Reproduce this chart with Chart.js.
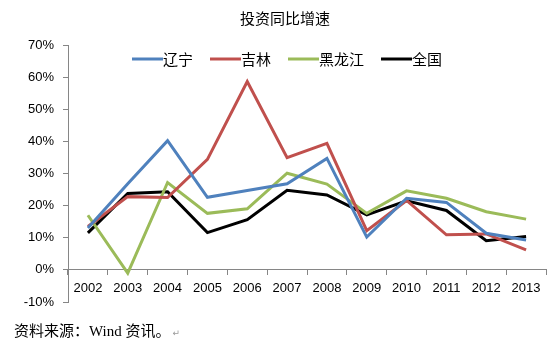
<!DOCTYPE html>
<html><head><meta charset="utf-8">
<script src="https://cdn.jsdelivr.net/npm/chart.js@4/dist/chart.umd.min.js"></script>
<style>html,body{margin:0;padding:0;background:#fff}#wrap{width:550px;height:342px}</style>
</head><body><div id="wrap"><canvas id="c" width="550" height="342"></canvas></div>
<script>
const title = "投资同比增速";
const footer = "资料来源：Wind 资讯。";
const years = ["2002","2003","2004","2005","2006","2007","2008","2009","2010","2011","2012","2013"];
const liaoning = [13.0, 26.8, 40.2, 22.6, 24.7, 26.8, 34.7, 10.2, 22.3, 21.0, 11.4, 9.3];
const jilin    = [13.5, 22.8, 22.5, 34.4, 58.6, 34.9, 39.4, 12.2, 21.6, 10.9, 11.2, 6.2];
const heilongjiang = [17.0, -1.0, 27.2, 17.6, 19.0, 30.1, 26.7, 17.6, 24.6, 22.3, 18.1, 15.8];
const national = [11.5, 23.8, 24.3, 11.6, 15.6, 24.8, 23.3, 17.1, 21.5, 18.5, 9.1, 10.4];
const yTicks = [-10, 0, 10, 20, 30, 40, 50, 60, 70];

const CJK = '"Noto Sans CJK SC", sans-serif';
const deco = {
  id: 'deco',
  afterDraw(chart) {
    const ctx = chart.ctx;
    ctx.save();
    // title
    ctx.fillStyle = '#000';
    ctx.font = '15px ' + CJK;
    ctx.textAlign = 'center';
    ctx.textBaseline = 'middle';
    ctx.fillText(title, 285, 18);
    // legend
    let x = 132;
    const y = 59;
    ctx.textAlign = 'left';
    chart.data.datasets.forEach(ds => {
      ctx.strokeStyle = ds.borderColor;
      ctx.lineWidth = 3;
      ctx.beginPath();
      ctx.moveTo(x, y);
      ctx.lineTo(x + 31, y);
      ctx.stroke();
      ctx.fillStyle = '#000';
      ctx.fillText(ds.label, x + 31, y);
      x += 31 + ctx.measureText(ds.label).width + 17;
    });
    // footer
    ctx.font = '15px "Liberation Serif", "Noto Sans CJK SC", serif';
    ctx.fillStyle = '#000';
    ctx.fillText(footer, 14, 332);
    const w = ctx.measureText(footer).width;
    ctx.fillStyle = '#999';
    ctx.font = '9px "DejaVu Sans"';
    ctx.fillText('\u21B5', 14 + w + 2, 334);
    ctx.restore();
  }
};

new Chart(document.getElementById('c'), {
  type: 'line',
  data: {
    labels: years,
    datasets: [
      {label: '辽宁', data: liaoning, borderColor: '#4F81BD'},
      {label: '吉林', data: jilin, borderColor: '#C0504D'},
      {label: '黑龙江', data: heilongjiang, borderColor: '#9BBB59'},
      {label: '全国', data: national, borderColor: '#000000'}
    ].map(d => Object.assign(d, {borderWidth: 3, pointRadius: 0, tension: 0, fill: false, borderJoinStyle: 'miter'}))
  },
  plugins: [deco],
  options: {
    responsive: false,
    animation: false,
    devicePixelRatio: 1,
    layout: {padding: {top: 45, left: 0, right: 4, bottom: 40}},
    plugins: {legend: {display: false}, title: {display: false}, tooltip: {enabled: false}},
    scales: {
      x: {
        type: 'category',
        position: {y: 0},
        offset: true,
        grid: {offset: true, drawOnChartArea: false, drawTicks: true, tickLength: 5, color: '#868686'},
        border: {color: '#868686', width: 1},
        ticks: {color: '#000', font: {family: '"Liberation Sans", sans-serif', size: 13}, padding: 6, maxRotation: 0, autoSkip: false}
      },
      y: {
        min: -10, max: 70,
        afterBuildTicks(scale) { scale.ticks = yTicks.map(v => ({value: v})); },
        afterFit(scale) { scale.width = 68; },
        grid: {drawOnChartArea: false, drawTicks: true, tickLength: 5, color: '#868686'},
        border: {color: '#868686', width: 1},
        ticks: {color: '#000', font: {family: '"Liberation Sans", sans-serif', size: 13}, padding: 9, callback: v => v + '%'}
      }
    }
  }
});
</script></body></html>
